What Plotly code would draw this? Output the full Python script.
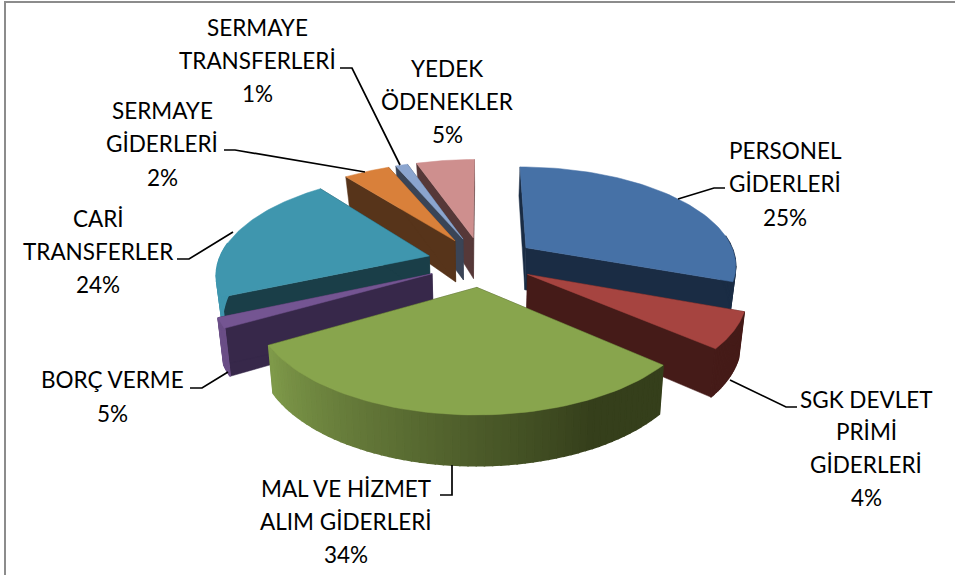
import math
import plotly.graph_objects as go

# Printed data
names = ["PERSONEL GİDERLERİ", "SGK DEVLET PRİMİ GİDERLERİ", "MAL VE HİZMET ALIM GİDERLERİ", "BORÇ VERME",
         "CARİ TRANSFERLER", "SERMAYE GİDERLERİ", "SERMAYE TRANSFERLERİ", "YEDEK ÖDENEKLER"]
printed_pct = [25, 4, 34, 5, 24, 2, 1, 5]
# Share of the circle each slice visibly occupies in the picture (percent)
drawn_share = [30.6, 5.7, 30.4, 1.7, 21.0, 4.2, 1.1, 5.3]
label_lines = [["PERSONEL", "GİDERLERİ"], ["SGK DEVLET", "PRİMİ", "GİDERLERİ"], ["MAL VE HİZMET", "ALIM GİDERLERİ"],
               ["BORÇ VERME"], ["CARİ", "TRANSFERLER"], ["SERMAYE", "GİDERLERİ"], ["SERMAYE", "TRANSFERLERİ"],
               ["YEDEK", "ÖDENEKLER"]]

# Styles / layout
top_col = ["#4671A6", "#A64440", "#88A54D", "#745592", "#3F96AE", "#D9803A", "#8BA5CF", "#CE8F8E"]
face_col = ["#1A2C44", "#451B18", "#353F1B", "#37284A", "#1A3E48", "#57341A", "#3A4456", "#563838"]
wall_from = ["#1A2C44", "#451B18", "#7F9A4A", "#6B4F87", "#3F96AE", "#57341A", "#3A4456", "#563838"]
wall_to = ["#1A2C44", "#451B18", "#353F1B", "#6B4F87", "#3F96AE", "#57341A", "#3A4456", "#563838"]
draw_order = [7, 6, 5, 4, 0, 1, 3, 2]
explode = [0.26, 0.245, 0.25, 0.26, 0.26, 0.26, 0.26, 0.26]
label_xy = [(785, 150, 33.5), (866, 399, 32.7), (346, 488, 33), (112, 379, 34), (98, 218, 33), (162, 110, 33.5),
            (257, 27, 33), (447, 68, 33)]
leaders = [[(678, 199), (714, 188), (725, 188)], [(730, 380), (786, 407), (797, 407)],
           [(452, 465), (452, 495), (440, 495)], [(228, 372), (202, 388), (190, 388)],
           [(233, 232), (189, 259), (177, 259)], [(365, 172), (235, 150), (224, 150)],
           [(400, 165), (352, 68), (340, 68)]]
CX, CY, A, B, K = 482, 262, 211, 98, 0.16


def project(u, v):
    return CX + A * u / (1 + K * v), CY - B * v / (1 + K * v)


def depth(v):
    return 44 - 13 * v if v > 0 else 44 - 5.5 * v


def top_pt(th, ex, ey, r=1.0):
    u, v = ex + r * math.sin(th), ey + r * math.cos(th)
    return project(u, v), (u, v)


def bottom(p, uv):
    return p[0] - uv[0] * 5, p[1] + depth(uv[1])


def hex_mix(a, b, t):
    ca = [int(a[i:i + 2], 16) for i in (1, 3, 5)]
    cb = [int(b[i:i + 2], 16) for i in (1, 3, 5)]
    return "#%02X%02X%02X" % tuple(round(x + (y - x) * t) for x, y in zip(ca, cb))


fig = go.Figure()


def poly(pts, color, lw=0.5):
    fig.add_trace(go.Scatter(x=[p[0] for p in pts] + [pts[0][0]], y=[p[1] for p in pts] + [pts[0][1]],
                             mode="lines", fill="toself", fillcolor=color, line=dict(color=color, width=lw),
                             hoverinfo="skip", showlegend=False))


edges = [0]
for s in drawn_share:
    edges.append(edges[-1] + s)
total = edges[-1]

for i in draw_order:
    a0, a1 = [edges[i] / total * 2 * math.pi, edges[i + 1] / total * 2 * math.pi]
    mid = (a0 + a1) / 2
    ex, ey = explode[i] * math.sin(mid), explode[i] * math.cos(mid)
    apex = project(ex, ey)
    apex_b = bottom(apex, (ex, ey))
    # radial faces
    for a in (a0, a1):
        p, uv = top_pt(a, ex, ey)
        poly([apex, p, bottom(p, uv), apex_b], face_col[i])
    # outer wall: only the part of the rim that faces the viewer
    n = 60 if i == 2 else 24
    for j in range(n):
        t0, t1 = a0 + (a1 - a0) * j / n, a0 + (a1 - a0) * (j + 1) / n
        if math.cos((t0 + t1) / 2) > 0.12:
            continue
        p0, uv0 = top_pt(t0, ex, ey)
        p1, uv1 = top_pt(t1, ex, ey)
        tt = 1 - j / (n - 1)
        poly([p0, p1, bottom(p1, uv1), bottom(p0, uv0)], hex_mix(wall_from[i], wall_to[i], min(1, tt * 1.25)), 1.5)
    # top surface
    rim = [top_pt(a0 + (a1 - a0) * j / 60, ex, ey)[0] for j in range(61)]
    poly([apex] + rim, top_col[i])

for seg in leaders:
    fig.add_trace(go.Scatter(x=[p[0] for p in seg], y=[p[1] for p in seg], mode="lines",
                             line=dict(color="#000000", width=1.7), hoverinfo="skip", showlegend=False))

ann = []
for lines, pct, (x, y, dy) in zip(label_lines, printed_pct, label_xy):
    for k, text in enumerate(lines + [f"{pct}%"]):
        ann.append(dict(x=x, y=y + k * dy, text=text, showarrow=False, xanchor="center", yanchor="middle",
                        font=dict(family="Lato", size=22.5, color="#000000")))

fig.update_layout(
    width=955, height=575, margin=dict(l=0, r=0, t=0, b=0), paper_bgcolor="white", plot_bgcolor="white",
    xaxis=dict(range=[0, 955], visible=False, fixedrange=True),
    yaxis=dict(range=[575, 0], visible=False, fixedrange=True),
    annotations=ann, showlegend=False,
    shapes=[dict(type="line", x0=5, x1=5, y0=1, y1=575, line=dict(color="#8C8C8C", width=2)),
            dict(type="line", x0=4, x1=955, y0=2, y1=2, line=dict(color="#8C8C8C", width=2))],
)
fig.write_html("out.html", config={"displayModeBar": False},
               post_script="document.body.style.margin='0';")
